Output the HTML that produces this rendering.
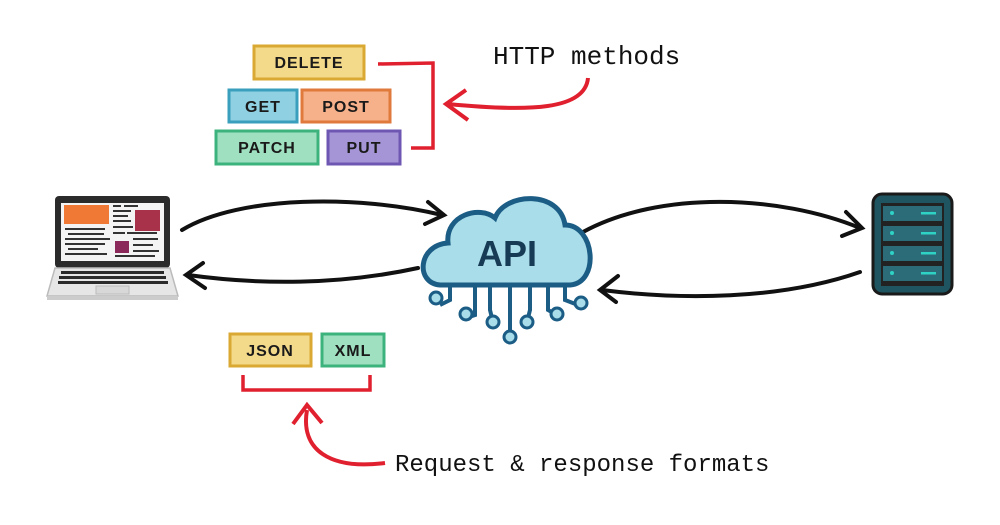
<!DOCTYPE html>
<html><head><style>
html,body{margin:0;padding:0;background:#fff;width:1000px;height:525px;overflow:hidden}
svg{display:block}
.lbl{font-family:"Liberation Sans",sans-serif;font-weight:bold;font-size:16px;letter-spacing:1px;fill:#1a1a1a}
.hand{font-family:"Liberation Mono",monospace;fill:#111}
</style></head><body>
<svg width="1000" height="525" viewBox="0 0 1000 525">
<!-- method boxes -->
<rect x="254" y="46" width="110" height="33" fill="#f3d98a" stroke="#d9a933" stroke-width="3"/>
<text x="309" y="68" text-anchor="middle" class="lbl">DELETE</text>
<rect x="229" y="90" width="68" height="32" fill="#8fd0e3" stroke="#3a9fbd" stroke-width="3"/>
<text x="263" y="112" text-anchor="middle" class="lbl">GET</text>
<rect x="302" y="90" width="88" height="32" fill="#f6b08a" stroke="#e07a3c" stroke-width="3"/>
<text x="346" y="112" text-anchor="middle" class="lbl">POST</text>
<rect x="216" y="131" width="102" height="33" fill="#9fe0c0" stroke="#3cb37c" stroke-width="3"/>
<text x="267" y="153" text-anchor="middle" class="lbl">PATCH</text>
<rect x="328" y="131" width="72" height="33" fill="#a595d6" stroke="#6e56b3" stroke-width="3"/>
<text x="364" y="153" text-anchor="middle" class="lbl">PUT</text>
<!-- red bracket top -->
<path d="M378 64 L433 63 L433 148 L411 148" fill="none" stroke="#e0202e" stroke-width="3.5"/>
<path d="M588 78 C585 110 530 112 448 104" fill="none" stroke="#e0202e" stroke-width="4"/>
<path d="M466 90 L446 104 L468 120" fill="none" stroke="#e0202e" stroke-width="4"/>
<text x="493" y="64" class="hand" font-size="26">HTTP methods</text>
<!-- laptop -->
<rect x="55" y="196" width="115" height="72" rx="4" fill="#2b2b2b"/>
<rect x="61" y="203" width="103" height="58" fill="#f4f4f4"/>
<rect x="64" y="205" width="45" height="19" fill="#f07a35"/>
<rect x="135" y="210" width="25" height="21" fill="#a8324a"/>
<rect x="115" y="241" width="14" height="12" fill="#8b2a5a"/>
<g fill="#333">
<rect x="113" y="205" width="8" height="2"/><rect x="124" y="205" width="14" height="2"/>
<rect x="113" y="210" width="18" height="2"/><rect x="113" y="215" width="15" height="2"/><rect x="113" y="220" width="18" height="2"/>
<rect x="113" y="226" width="20" height="2"/><rect x="113" y="232" width="12" height="2"/><rect x="127" y="232" width="30" height="2"/>
<rect x="65" y="228" width="40" height="2"/><rect x="68" y="233" width="36" height="2"/><rect x="65" y="238" width="45" height="2"/>
<rect x="65" y="243" width="40" height="2"/><rect x="68" y="248" width="30" height="2"/><rect x="65" y="253" width="42" height="2"/>
<rect x="133" y="238" width="25" height="2"/><rect x="133" y="244" width="20" height="2"/><rect x="133" y="250" width="26" height="2"/><rect x="115" y="255" width="40" height="2"/>
</g>
<path d="M55 268 L170 268 L178 296 L47 296 Z" fill="#e6e6e6" stroke="#bbb" stroke-width="1.5"/>
<rect x="47" y="296" width="131" height="4" fill="#ccc"/>
<g fill="#2a2a2a"><rect x="61" y="271" width="103" height="3"/><rect x="59" y="276" width="107" height="3"/><rect x="58" y="281" width="110" height="3"/></g>
<rect x="96" y="286" width="33" height="8" fill="#d8d8d8" stroke="#bbb"/>
<!-- arrows -->
<g fill="none" stroke="#111" stroke-width="4" stroke-linecap="round">
<path d="M182 230 C240 195 360 195 442 215"/>
<path d="M428 202 L444 215 L425 224"/>
<path d="M418 268 C340 285 260 285 188 275"/>
<path d="M203 263 L186 275 L205 288"/>
<path d="M583 232 C660 190 780 195 860 228"/>
<path d="M846 212 L862 228 L842 236"/>
<path d="M860 272 C780 300 680 300 602 290"/>
<path d="M618 276 L600 290 L616 302"/>
</g>
<!-- cloud -->
<path d="M440 285 C415 283 418 245 448 243 C445 215 480 205 495 218 C505 192 560 190 565 225 C595 225 600 283 570 285 Z" fill="#a9dde9" stroke="#1c5d86" stroke-width="5"/>
<text x="507" y="266" text-anchor="middle" font-family="Liberation Sans,sans-serif" font-weight="bold" font-size="36" fill="#173a55">API</text>
<g fill="none" stroke="#1c5d86" stroke-width="4">
<path d="M450 285 L450 300 L440 305"/><path d="M475 285 L475 315 L466 318"/><path d="M490 285 L490 310 L493 322"/>
<path d="M510 285 L510 330"/><path d="M530 285 L530 310 L527 322"/><path d="M548 285 L548 310 L557 315"/><path d="M565 285 L565 300 L578 305"/>
</g>
<g fill="#a9dde9" stroke="#1c5d86" stroke-width="3">
<circle cx="436" cy="298" r="6"/><circle cx="466" cy="314" r="6"/><circle cx="493" cy="322" r="6"/><circle cx="510" cy="337" r="6"/>
<circle cx="527" cy="322" r="6"/><circle cx="557" cy="314" r="6"/><circle cx="581" cy="303" r="6"/>
</g>
<!-- server -->
<rect x="873" y="194" width="79" height="100" rx="9" fill="#1f5560" stroke="#1a1a1a" stroke-width="3"/>
<rect x="881" y="203" width="63" height="83" fill="#222"/>
<g fill="#2c6b78">
<rect x="883" y="206" width="59" height="15"/><rect x="883" y="226" width="59" height="15"/><rect x="883" y="246" width="59" height="15"/><rect x="883" y="266" width="59" height="15"/>
</g>
<g fill="#2fd3c6">
<circle cx="892" cy="213" r="2"/><circle cx="892" cy="233" r="2"/><circle cx="892" cy="253" r="2"/><circle cx="892" cy="273" r="2"/>
<rect x="921" y="212" width="15" height="2.5"/><rect x="921" y="232" width="15" height="2.5"/><rect x="921" y="252" width="15" height="2.5"/><rect x="921" y="272" width="15" height="2.5"/>
</g>
<!-- format boxes -->
<rect x="230" y="334" width="81" height="32" fill="#f3d98a" stroke="#d9a933" stroke-width="3"/>
<text x="270" y="356" text-anchor="middle" class="lbl">JSON</text>
<rect x="322" y="334" width="62" height="32" fill="#9fe0c0" stroke="#3cb37c" stroke-width="3"/>
<text x="353" y="356" text-anchor="middle" class="lbl">XML</text>
<path d="M243 375 L243 390 L370 390 L370 375" fill="none" stroke="#e0202e" stroke-width="3.5"/>
<path d="M385 463 C330 470 300 450 307 410" fill="none" stroke="#e0202e" stroke-width="4"/>
<path d="M293 424 L307 405 L322 423" fill="none" stroke="#e0202e" stroke-width="4"/>
<text x="395" y="471" class="hand" font-size="24">Request &amp; response formats</text>
</svg>
</body></html>
